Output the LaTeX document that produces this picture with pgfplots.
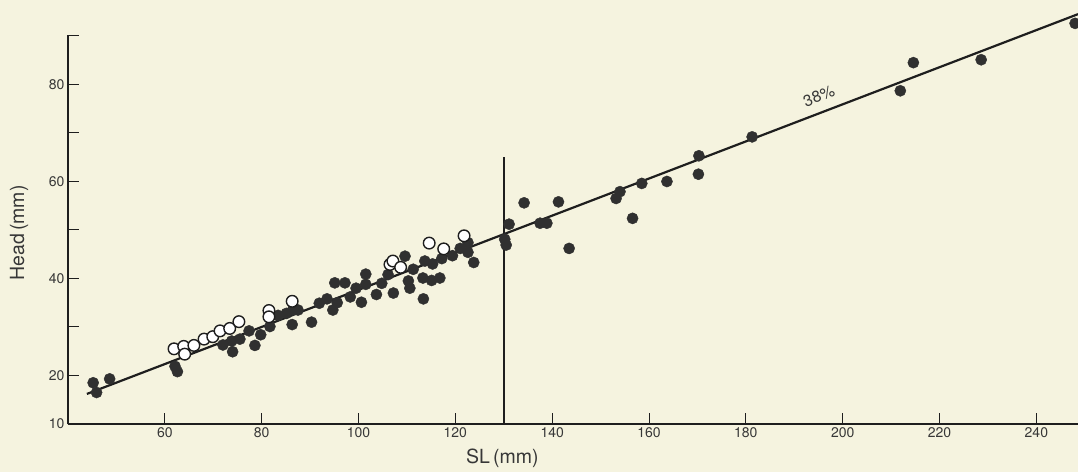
\documentclass[border=0pt]{standalone}
\usepackage{pgfplots}
\pgfplotsset{compat=1.18}
\usepackage{fontspec}
\setmainfont{TeX Gyre Heros}
\definecolor{bg}{RGB}{245,243,223}
\definecolor{dot}{RGB}{48,48,48}
\definecolor{ink}{RGB}{30,30,30}
\definecolor{txt}{RGB}{55,55,55}
\begin{document}
\begin{tikzpicture}[x=1pt,y=1pt]
\fill[bg] (-68,-48) rectangle (1010,424);
\useasboundingbox (-68,-48) rectangle (1010,424);
\begin{axis}[
  at={(0,0)}, anchor=south west,
  scale only axis, width=1010pt, height=389pt,
  xmin=40, xmax=248.6, ymin=10, ymax=90.2,
  axis x line=bottom, axis y line=left,
  axis line style={-, draw=ink, line width=1.3pt},
  clip=false,
  tick align=inside, major tick length=11pt,
  tick style={draw=ink, line width=1pt},
  xtick={60,80,...,240},
  ytick={10,20,...,90},
  yticklabels={10,20,,40,,60,,80,},
  /pgf/number format/assume math mode=true,
  ticklabel style={font=\fontsize{14}{16}\selectfont, text=txt},
  xlabel={SL\,(mm)}, ylabel={Head\,(mm)},
  label style={font=\fontsize{19.5}{21}\selectfont, text=txt},
  xlabel style={at={(axis description cs:0.43,-0.087)}, anchor=center},
  ylabel style={at={(axis description cs:-0.0485,0.491)}, anchor=center},
]
% regression line
\addplot[ink, line width=2.2pt] coordinates {(43.9,16.2) (248.6,94.5)};
% vertical divider
\addplot[ink, line width=1.8pt] coordinates {(130,10) (130,65)};
% filled points
\addplot[only marks, mark=*, mark size=5.6pt, mark options={fill=dot, draw=dot}] table {
x y
45.2 18.5
45.9 16.5
48.6 19.3
62.1 21.9
62.6 20.8
72.0 26.3
74.0 24.9
73.8 27.1
75.5 27.5
77.4 29.2
78.6 26.2
79.8 28.4
81.7 30.1
83.4 32.4
85.1 32.8
86.3 30.5
86.4 33.5
87.5 33.5
90.3 31.0
91.9 34.9
93.5 35.8
94.7 33.5
95.6 35.0
95.1 39.1
97.2 39.1
98.3 36.2
99.5 38.0
100.6 35.1
101.5 40.9
101.5 38.8
103.7 36.7
104.8 39.0
106.1 40.8
107.2 37.0
109.6 44.6
110.3 39.5
110.6 38.0
111.3 41.9
113.4 35.8
113.3 40.1
113.7 43.6
115.1 39.6
115.3 43.0
116.8 40.1
117.2 44.1
119.4 44.7
121.0 46.2
122.6 47.4
122.6 45.4
123.8 43.3
131.1 51.2
130.2 48.1
130.5 46.9
134.2 55.6
141.3 55.8
137.5 51.4
138.9 51.4
143.5 46.2
153.2 56.5
154.0 57.9
156.6 52.4
158.5 59.6
163.7 60.0
170.3 65.3
170.2 61.5
181.3 69.2
214.6 84.5
211.9 78.7
228.6 85.1
248.0 92.6
};
% open points
\addplot[only marks, mark=*, mark size=5.8pt, mark options={fill=white, draw=ink, line width=1.4pt}] table {
x y
61.9 25.5
63.9 26.0
64.1 24.4
66.0 26.2
68.1 27.5
69.9 28.0
71.4 29.2
73.4 29.7
75.3 31.1
81.5 33.4
81.5 32.1
86.3 35.3
106.5 42.9
107.1 43.6
108.7 42.3
114.6 47.3
117.6 46.1
121.8 48.8
};
\node[font=\fontsize{16}{18}\selectfont, text=txt, rotate=21] at (axis cs:195.1,77.6) {38\%};
\end{axis}
\end{tikzpicture}
\end{document}
